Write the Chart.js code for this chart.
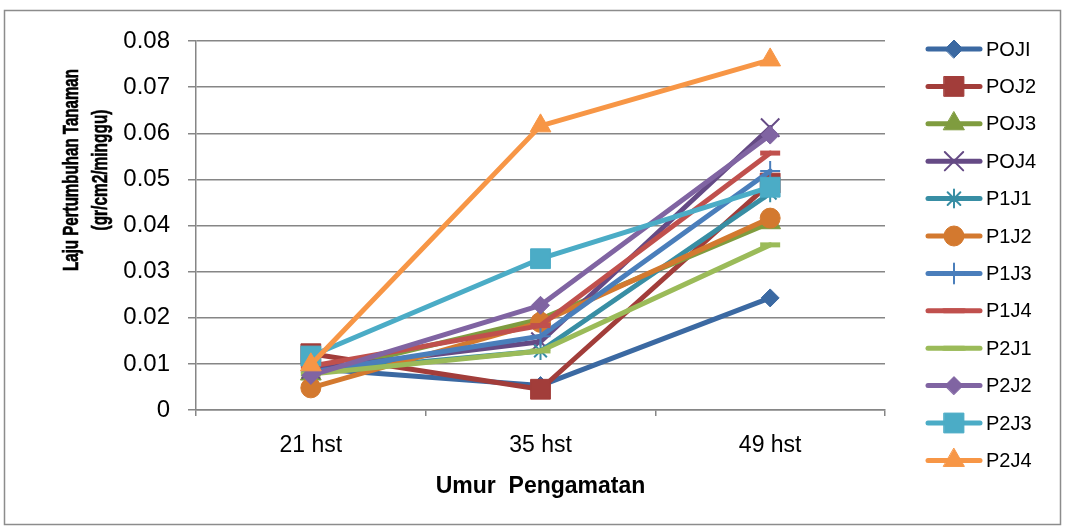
<!DOCTYPE html>
<html>
<head>
<meta charset="utf-8">
<script src="https://cdn.jsdelivr.net/npm/chart.js"></script>
<style>
  html, body { margin: 0; padding: 0; background: #fff; }
  #wrap { width: 1065px; height: 530px; }
</style>
</head>
<body>
<div id="wrap"><canvas id="lajuChart" width="1065" height="530"></canvas></div>
<script>
const categories = ['21 hst', '35 hst', '49 hst'];
const yTicks = [0, 0.01, 0.02, 0.03, 0.04, 0.05, 0.06, 0.07, 0.08];

const poj1 = [0.0090, 0.0053, 0.0243];
const poj2 = [0.0122, 0.0045, 0.0492];
const poj3 = [0.0078, 0.0197, 0.0406];
const poj4 = [0.0088, 0.0148, 0.0612];
const p1j1 = [0.0083, 0.0128, 0.0470];
const p1j2 = [0.0048, 0.0190, 0.0416];
const p1j3 = [0.0082, 0.0160, 0.0518];
const p1j4 = [0.0095, 0.0183, 0.0557];
const p2j1 = [0.0078, 0.0128, 0.0358];
const p2j2 = [0.0075, 0.0227, 0.0596];
const p2j3 = [0.0117, 0.0328, 0.0483];
const p2j4 = [0.0098, 0.0616, 0.0759];

const seriesNames = ['POJI', 'POJ2', 'POJ3', 'POJ4', 'P1J1', 'P1J2', 'P1J3', 'P1J4', 'P2J1', 'P2J2', 'P2J3', 'P2J4'];
const seriesValues = [poj1, poj2, poj3, poj4, p1j1, p1j2, p1j3, p1j4, p2j1, p2j2, p2j3, p2j4];
const seriesColors = ['#3B69A2', '#A23D3A', '#7F9C3F', '#654A85', '#388EA4', '#D3792F', '#4A7EBB', '#C0504D', '#9BBB59', '#8064A2', '#4BACC6', '#F79646'];
const markerStyles = ['rectRot', 'rect', 'triangle', 'crossRot', 'star', 'circle', 'cross', 'line', 'line', 'rectRot', 'rect', 'triangle'];
const markerSizes = [9, 14, 12, 13, 9, 10, 10, 10, 10, 9, 14, 12];

const FONT = '"Liberation Sans", Arial, sans-serif';
const GRID = '#868686';

const datasets = seriesNames.map((name, i) => {
  const thin = ['crossRot', 'star', 'cross', 'line'].includes(markerStyles[i]);
  return {
    label: name,
    data: seriesValues[i],
    borderColor: seriesColors[i],
    backgroundColor: seriesColors[i],
    borderWidth: 5,
    borderJoinStyle: 'round',
    borderCapStyle: 'round',
    pointStyle: markerStyles[i],
    pointRadius: markerSizes[i],
    pointHoverRadius: markerSizes[i],
    pointBorderWidth: markerStyles[i] === 'line' ? 5 : (thin ? 2 : 1),
    pointBackgroundColor: seriesColors[i],
    pointBorderColor: seriesColors[i],
    tension: 0,
    order: seriesNames.length - 1 - i,
  };
});

// frame, y title and the legend are drawn by hand to follow the Excel layout
const decorPlugin = {
  id: 'decor',
  beforeDraw(chart) {
    const ctx = chart.ctx;
    ctx.save();
    ctx.strokeStyle = '#8c8c8c';
    ctx.lineWidth = 1.5;
    ctx.strokeRect(4.5, 10.5, 1056, 514);
    ctx.restore();
  },
  afterDraw(chart) {
    const ctx = chart.ctx;
    ctx.save();
    ctx.fillStyle = '#000';
    ctx.strokeStyle = '#000';
    ctx.lineWidth = 0.6;
    ctx.font = 'bold 22px ' + FONT;
    ctx.textAlign = 'center';
    ctx.textBaseline = 'alphabetic';
    ctx.translate(78, 170);
    ctx.rotate(-Math.PI / 2);
    ctx.fillText('Laju Pertumbuhan Tanaman', 0, 0, 202);
    ctx.strokeText('Laju Pertumbuhan Tanaman', 0, 0, 202);
    ctx.fillText('(gr/cm2/minggu)', 0, 29, 121);
    ctx.strokeText('(gr/cm2/minggu)', 0, 29, 121);
    ctx.restore();

    ctx.save();
    ctx.font = '20px ' + FONT;
    ctx.textBaseline = 'middle';
    ctx.textAlign = 'left';
    chart.data.datasets.forEach((ds, i) => {
      const y = 49 + i * 37.4;
      ctx.strokeStyle = ds.borderColor;
      ctx.lineWidth = 5;
      ctx.lineCap = 'round';
      ctx.beginPath();
      ctx.moveTo(928, y);
      ctx.lineTo(980, y);
      ctx.stroke();
      if (Chart.helpers && Chart.helpers.drawPoint) {
        ctx.fillStyle = ds.pointBackgroundColor;
        ctx.strokeStyle = ds.pointBorderColor;
        ctx.lineWidth = ds.pointBorderWidth;
        Chart.helpers.drawPoint(ctx, {
          pointStyle: ds.pointStyle,
          radius: ds.pointRadius,
          borderWidth: ds.pointBorderWidth,
          rotation: 0,
        }, 954, y);
      }
      ctx.fillStyle = '#000';
      ctx.fillText(ds.label, 986, y + 1);
    });
    ctx.restore();
  },
};

new Chart(document.getElementById('lajuChart'), {
  type: 'line',
  data: { labels: categories, datasets },
  plugins: [decorPlugin],
  options: {
    responsive: false,
    animation: false,
    layout: { padding: { top: 41, right: 180, left: 0, bottom: 0 } },
    plugins: {
      legend: { display: false },
      tooltip: { enabled: false },
      title: { display: false },
    },
    scales: {
      x: {
        type: 'category',
        offset: true,
        grid: {
          display: true,
          offset: true,
          drawOnChartArea: false,
          drawTicks: true,
          tickLength: 6,
          color: GRID,
          lineWidth: 1.5,
        },
        border: { color: GRID, width: 1.5 },
        ticks: { color: '#000', font: { family: FONT, size: 23 }, padding: 16, maxRotation: 0 },
        title: {
          display: true,
          text: 'Umur  Pengamatan',
          color: '#000',
          font: { family: FONT, size: 23, weight: 'bold' },
          padding: { top: 0, bottom: 30 },
        },
        afterFit: (scale) => { scale.height = 120; },
      },
      y: {
        min: yTicks[0],
        max: yTicks[yTicks.length - 1],
        afterBuildTicks: (scale) => { scale.ticks = yTicks.map((v) => ({ value: v })); },
        ticks: {
          color: '#000',
          font: { family: FONT, size: 24 },
          padding: 18,
          callback: (v) => (v === 0 ? '0' : Number(v).toFixed(2)),
        },
        grid: { color: GRID, lineWidth: 1.5, tickLength: 8, drawTicks: true },
        border: { color: GRID, width: 1.5 },
        afterFit: (scale) => { scale.width = 196; },
      },
    },
  },
});
</script>
</body>
</html>
